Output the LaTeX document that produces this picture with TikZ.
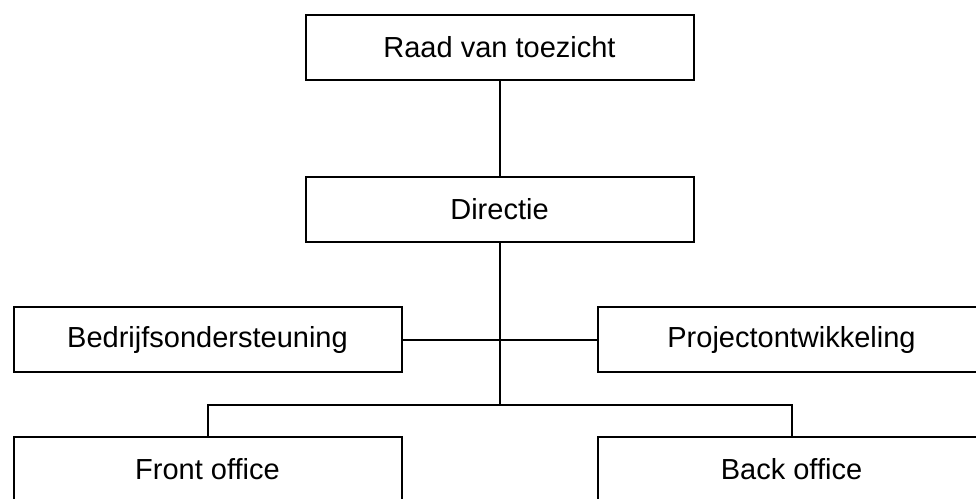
\documentclass[tikz,border=0pt]{standalone}
\usepackage{fontspec}
\setmainfont{Liberation Sans}
\begin{document}
\begin{tikzpicture}[x=1pt,y=-1pt,
  orgbox/.style={draw=black, line width=2pt, fill=white, minimum width=388pt, minimum height=65pt, inner sep=0pt, font=\fontsize{29}{32}\selectfont},
  conn/.style={draw=black, line width=2pt}]
\path[use as bounding box, clip] (0,0) rectangle (976,498);
\fill[white] (0,0) rectangle (976,498);
\node[orgbox] (rvt) at (499.5,47.5) {Raad van toezicht};
\node[orgbox] (dir) at (499.5,209.5) {Directie};
\node[orgbox] (bed) at (207.5,339.5) {Bedrijfsondersteuning};
\node[orgbox] (proj) at (791.5,339.5) {Projectontwikkeling};
\node[orgbox] (front) at (207.5,469.5) {Front office};
\node[orgbox] (back) at (791.5,469.5) {Back office};
\coordinate (bus) at (499.5,405);
\draw[conn] (rvt) -- (dir);
\draw[conn] (dir) -- (bus);
\draw[conn] (bed) -- (proj);
\draw[conn] (front.north) |- (bus) -| (back.north);
\end{tikzpicture}
\end{document}
